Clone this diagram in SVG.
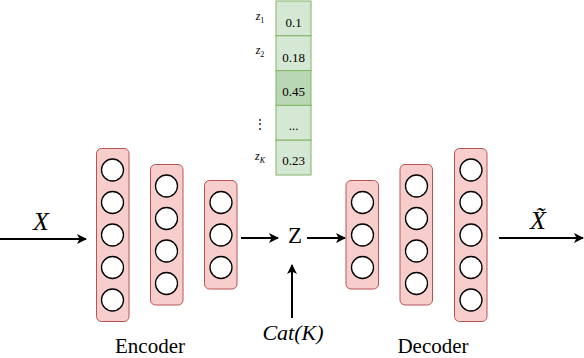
<svg xmlns="http://www.w3.org/2000/svg" width="584" height="358" viewBox="0 0 584 358">
<defs>
<marker id="ah" viewBox="0 0 10 10" refX="9" refY="5" markerWidth="10" markerHeight="10" markerUnits="userSpaceOnUse" orient="auto">
<path d="M0,0 L10,5 L0,10 L2.5,5 Z" fill="#000"/>
</marker>
</defs>
<style>
.layer{fill:#f8cecc;stroke:#b85450;stroke-width:1}
.neuron{fill:#fff;stroke:#000;stroke-width:1.3}
.cell{fill:#d5e8d4;stroke:#82b366;stroke-width:1}
.cellhi{fill:#b9d7b5;stroke:#82b366;stroke-width:1}
.edge{stroke:#000;stroke-width:2;fill:none;marker-end:url(#ah)}
.val{font-size:13px;text-anchor:middle}
.zl{font-size:12px;font-style:italic;text-anchor:middle}
.math{font-style:italic}
</style>
<g id="enc1">
<rect class="layer" x="96.5" y="148.5" width="32.5" height="173" rx="5"/>
<circle class="neuron" cx="112.5" cy="170" r="11"/>
<circle class="neuron" cx="112.5" cy="202.5" r="11"/>
<circle class="neuron" cx="112.5" cy="235" r="11"/>
<circle class="neuron" cx="112.5" cy="267.5" r="11"/>
<circle class="neuron" cx="112.5" cy="300" r="11"/>
</g>
<g id="enc2">
<rect class="layer" x="150.5" y="164.5" width="32.5" height="140.5" rx="5"/>
<circle class="neuron" cx="166.5" cy="186" r="11"/>
<circle class="neuron" cx="166.5" cy="218.5" r="11"/>
<circle class="neuron" cx="166.5" cy="251" r="11"/>
<circle class="neuron" cx="166.5" cy="283.5" r="11"/>
</g>
<g id="enc3">
<rect class="layer" x="204.5" y="180.5" width="32.5" height="108.5" rx="5"/>
<circle class="neuron" cx="221" cy="202.5" r="11"/>
<circle class="neuron" cx="221" cy="235" r="11"/>
<circle class="neuron" cx="221" cy="267.5" r="11"/>
</g>
<g id="dec1">
<rect class="layer" x="346" y="180.5" width="32.5" height="108.5" rx="5"/>
<circle class="neuron" cx="362.5" cy="202.5" r="11"/>
<circle class="neuron" cx="362.5" cy="235" r="11"/>
<circle class="neuron" cx="362.5" cy="267.5" r="11"/>
</g>
<g id="dec2">
<rect class="layer" x="400" y="164.5" width="32.5" height="140.5" rx="5"/>
<circle class="neuron" cx="416.5" cy="186" r="11"/>
<circle class="neuron" cx="416.5" cy="218.5" r="11"/>
<circle class="neuron" cx="416.5" cy="251" r="11"/>
<circle class="neuron" cx="416.5" cy="283.5" r="11"/>
</g>
<g id="dec3">
<rect class="layer" x="454.5" y="148.5" width="32.5" height="173" rx="5"/>
<circle class="neuron" cx="471" cy="170" r="11"/>
<circle class="neuron" cx="471" cy="202.5" r="11"/>
<circle class="neuron" cx="471" cy="235" r="11"/>
<circle class="neuron" cx="471" cy="267.5" r="11"/>
<circle class="neuron" cx="471" cy="300" r="11"/>
</g>
<g id="textroot" font-family="Liberation Serif, DejaVu Serif, serif" fill="#000">
<g id="table">
<rect class="cell" x="276" y="1" width="35" height="34.8"/>
<rect class="cell" x="276" y="35.8" width="35" height="34.8"/>
<rect class="cellhi" x="276" y="70.6" width="35" height="34.8"/>
<rect class="cell" x="276" y="105.4" width="35" height="34.8"/>
<rect class="cell" x="276" y="140.2" width="35" height="34.8"/>
<text class="val" x="293.5" y="27">0.1</text>
<text class="val" x="293.5" y="62">0.18</text>
<text class="val" x="293.5" y="96">0.45</text>
<text class="val" x="293.5" y="130">...</text>
<text class="val" x="293.5" y="165">0.23</text>
</g>
<g id="zlabels">
<text class="zl" x="260" y="20">z<tspan font-size="8" font-style="normal" dy="3">1</tspan></text>
<text class="zl" x="260" y="54">z<tspan font-size="8" font-style="normal" dy="3">2</tspan></text>
<text font-size="12" text-anchor="middle" x="260" y="128">⋮</text>
<text class="zl" x="260" y="160">z<tspan font-size="8" dy="3">K</tspan></text>
</g>
<g id="labels">
<text class="math" font-size="26" x="41" y="230" text-anchor="middle">X</text>
<text class="math" font-size="26" x="538" y="229" text-anchor="middle">X̃</text>
<text font-size="23" x="295" y="243" text-anchor="middle">Z</text>
<text class="math" font-size="22" x="293" y="340" text-anchor="middle">Cat(K)</text>
<text font-size="21" x="150" y="353" text-anchor="middle">Encoder</text>
<text font-size="21" x="433" y="353" text-anchor="middle">Decoder</text>
</g>
</g>
<g id="connectors">
<line class="edge" x1="0" y1="239" x2="86" y2="239"/>
<line class="edge" x1="241" y1="238" x2="278" y2="238"/>
<line class="edge" x1="307" y1="238" x2="345" y2="238"/>
<line class="edge" x1="292" y1="318" x2="292" y2="265"/>
<line class="edge" x1="499" y1="238" x2="583" y2="238"/>
</g>
</svg>
